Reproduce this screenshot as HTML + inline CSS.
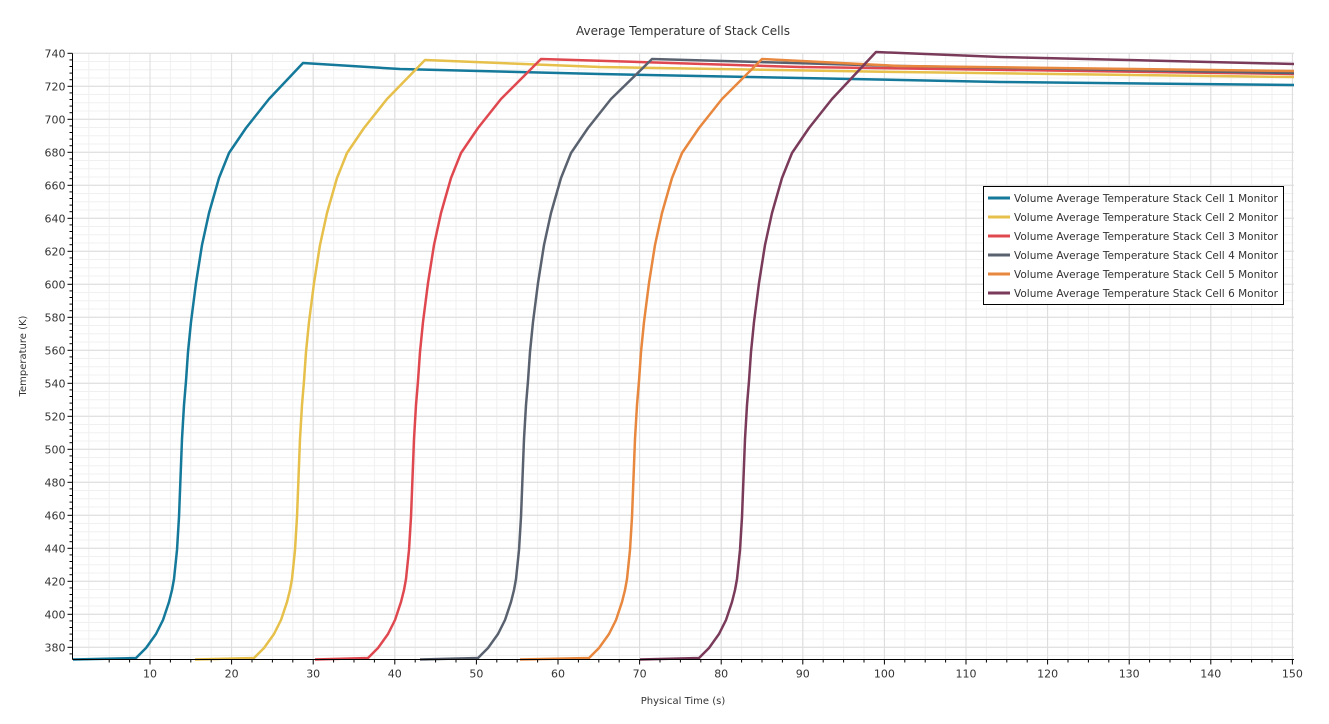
<!DOCTYPE html>
<html><head><meta charset="utf-8"><style>
body{margin:0;background:#fff;}
svg text{font-family:"DejaVu Sans","Liberation Sans",sans-serif;fill:#333;}
</style></head><body>
<svg id="s" width="1329" height="719" xmlns="http://www.w3.org/2000/svg">
<rect width="1329" height="719" fill="#fff"/>
<g id="grid"></g>
<text x="683" y="35" font-size="12" text-anchor="middle" fill="#222">Average Temperature of Stack Cells</text>
<text x="683" y="704" font-size="10" text-anchor="middle">Physical Time (s)</text>
<text x="26" y="356" font-size="10" text-anchor="middle" transform="rotate(-90 26 356)">Temperature (K)</text>
<g id="series"></g>
<g id="axes"></g>
<rect x="983.5" y="186.5" width="300" height="118" fill="#fff" stroke="#000"/>
<g id="leg"></g>
</svg>
<script>
var ns="http://www.w3.org/2000/svg";
function el(p,t,a,txt){var e=document.createElementNS(ns,t);for(var k in a)e.setAttribute(k,a[k]);if(txt!==undefined)e.textContent=txt;p.appendChild(e);return e;}
var g=document.getElementById('grid'),ax=document.getElementById('axes'),se=document.getElementById('series'),lg=document.getElementById('leg');
var L=72.5,R=1294,T=53.5,B=659.5;
function X(v){return 68.4+v*8.16;}
function Y(v){return 53.3+(740-v)*1.65;}
for(var v=2.5;v<=150;v+=2.5){var x=X(v);if(x>L)el(g,'line',{x1:x,x2:x,y1:T,y2:B,stroke:'#f0f0f0'});}
for(var v=375;v<=740;v+=5){el(g,'line',{x1:L,x2:R,y1:Y(v),y2:Y(v),stroke:'#f0f0f0'});}
for(var v=10;v<=150;v+=10){var x=X(v);el(g,'line',{x1:x,x2:x,y1:T,y2:B,stroke:'#dcdcdc'});el(ax,'line',{x1:x,x2:x,y1:B,y2:B+5,stroke:'#000'});el(ax,'text',{x:x,y:B+18,'font-size':11,'text-anchor':'middle'},v);}
for(var v=5;v<=150;v+=2.5){if(v%10)el(ax,'line',{x1:X(v),x2:X(v),y1:B,y2:B+3,stroke:'#000'});}
for(var v=380;v<=740;v+=20){var y=Y(v);el(g,'line',{x1:L,x2:R,y1:y,y2:y,stroke:'#dcdcdc'});el(ax,'line',{x1:L-5,x2:L,y1:y,y2:y,stroke:'#000'});el(ax,'text',{x:L-7,y:y+4,'font-size':11,'text-anchor':'end'},v);}
for(var v=376;v<=740;v+=4){if(v%20)el(ax,'line',{x1:L-3,x2:L,y1:Y(v),y2:Y(v),stroke:'#000'});}
el(ax,'line',{x1:L,x2:L,y1:T,y2:B,stroke:'#000'});
el(ax,'line',{x1:L,x2:R,y1:B,y2:B,stroke:'#000'});
var tpl=[[0,658],[10,648],[20,634],[27,620],[33,602],[36,590],[38,579],[41,550],[43,517],[46,439],[48,405],[50,381],[52,352],[55,322],[60,283],[66,245],[73,213],[83,178],[93,153],[110,128],[133,99]];
var cells=[
 {c:'#14799a',s:136,p:[303,63],st:73,t:[[400,69],[600,74],[800,78],[1000,82],[1294,85]]},
 {c:'#e6c04a',s:254,p:[425,60],st:195,t:[[600,67],[900,72],[1294,77]]},
 {c:'#e04850',s:368,p:[541,59],st:315,t:[[800,67],[1294,74]]},
 {c:'#5a6270',s:478,p:[652,59],st:420,t:[[900,66],[1294,73]]},
 {c:'#e8873e',s:589,p:[762,59],st:520,t:[[900,66],[1294,71]]},
 {c:'#7a3a5a',s:699,p:[876,52],st:640,t:[[1000,57],[1294,64]]}];
cells.forEach(function(c,i){
 var s=c.s;
 var pts=[[c.st,659.5]];
 tpl.forEach(function(p){pts.push([s+p[0],p[1]]);});
 pts.push(c.p);c.t.forEach(function(p){pts.push(p);});
 el(se,'polyline',{points:pts.map(function(p){return p.join(',')}).join(' '),fill:'none',stroke:c.c,'stroke-width':2.5,'stroke-linejoin':'round'});
 var y=198+i*19;
 el(lg,'line',{x1:988,x2:1010,y1:y,y2:y,stroke:c.c,'stroke-width':3});
 el(lg,'text',{x:1014,y:y+4,'font-size':10.5},'Volume Average Temperature Stack Cell '+(i+1)+' Monitor');
});
</script>
</body></html>
